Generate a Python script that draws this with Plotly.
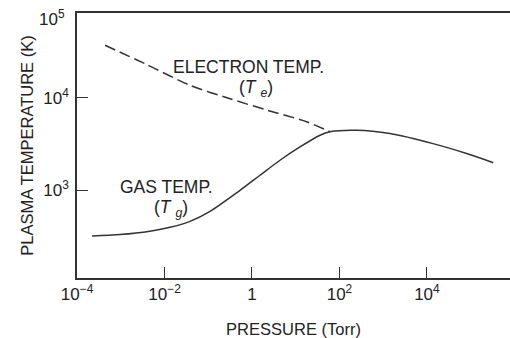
import plotly.graph_objects as go

# Gas temperature (solid) – pressure in Torr, temperature in K
gas_p = [10**-3.657, 10**-3.017, 10**-2.331, 10**-1.874, 10**-1.417, 10**-0.959,
         10**-0.273, 10**0.184, 10**0.641, 10**1.098, 10**1.556, 10**1.784,
         10**2.395, 10**3.156, 10**4.139, 10**4.909, 10**5.518]
gas_t = [320, 332, 361, 397, 461, 592, 1000, 1455, 2115, 2945, 3945, 4310,
         4470, 4110, 3200, 2500, 1990]

# Electron temperature (dashed)
elec_p = [10**-3.360, 10**-2.406, 10**-1.417, 10**-0.502, 10**0.337, 10**1.251,
          10**1.784]
elec_t = [37200, 23000, 13700, 9800, 7400, 5520, 4310]

x_tickvals = [1e-4, 1e-2, 1, 1e2, 1e4]
x_ticktext = ["10<sup>−4</sup>", "10<sup>−2</sup>", "1", "10<sup>2</sup>", "10<sup>4</sup>"]
y_tickvals = [1e3, 1e4]
y_ticktext = ["10<sup>3</sup>", "10<sup>4</sup>"]
y_top_label = "10<sup>5</sup>"

FONT = "Liberation Sans, Arial, sans-serif"
LINE = "#333333"
TXT = "#222222"

fig = go.Figure()
fig.add_trace(go.Scatter(x=elec_p, y=elec_t, mode="lines",
                         line=dict(color=LINE, width=1.5, dash="11px,5px", shape="spline",
                                   smoothing=0.8),
                         showlegend=False, hoverinfo="skip"))
fig.add_trace(go.Scatter(x=gas_p, y=gas_t, mode="lines",
                         line=dict(color=LINE, width=1.5, shape="spline", smoothing=0.8),
                         showlegend=False, hoverinfo="skip"))

fig.update_layout(
    width=510, height=338,
    margin=dict(l=77, r=0, t=13, b=60),
    paper_bgcolor="white", plot_bgcolor="white",
    font=dict(family=FONT, size=17, color=TXT),
    xaxis=dict(type="log", range=[-4.001, 5.9], tickvals=x_tickvals, ticktext=x_ticktext,
               ticks="inside", ticklen=11, tickwidth=1.3, tickcolor=LINE,
               showline=True, linecolor=LINE, linewidth=1.5, mirror=True,
               showgrid=False, zeroline=False,
               title=dict(text="PRESSURE (Torr)", font=dict(size=16.5), standoff=21),
               tickfont=dict(size=17)),
    yaxis=dict(type="log", range=[2.05, 4.92], tickvals=y_tickvals, ticktext=y_ticktext,
               ticks="inside", ticklen=11, tickwidth=1.3, tickcolor=LINE,
               showline=True, linecolor=LINE, linewidth=1.5,
               showgrid=False, zeroline=False, ticklabelstandoff=3,
               title=dict(text="PLASMA TEMPERATURE (K)", font=dict(size=16.5), standoff=6),
               tickfont=dict(size=17)),
)

ann = dict(showarrow=False, font=dict(family=FONT, size=17.5, color=TXT))
fig.add_annotation(x=0, y=1, xref="paper", yref="paper", text=y_top_label,
                   xanchor="right", yanchor="middle", xshift=-10, yshift=-5,
                   showarrow=False, font=dict(family=FONT, size=17, color=TXT))
fig.add_annotation(x=-0.07, y=4.335, text="ELECTRON TEMP.", **ann)
fig.add_annotation(x=0.092, y=4.105, text="(<i>T</i> <sub><i>e</i></sub>)", **ann)
fig.add_annotation(x=-1.954, y=3.036, text="GAS TEMP.", **ann)
fig.add_annotation(x=-1.862, y=2.805, text="(<i>T</i> <sub><i>g</i></sub>)", **ann)

fig.write_html("out.html")
